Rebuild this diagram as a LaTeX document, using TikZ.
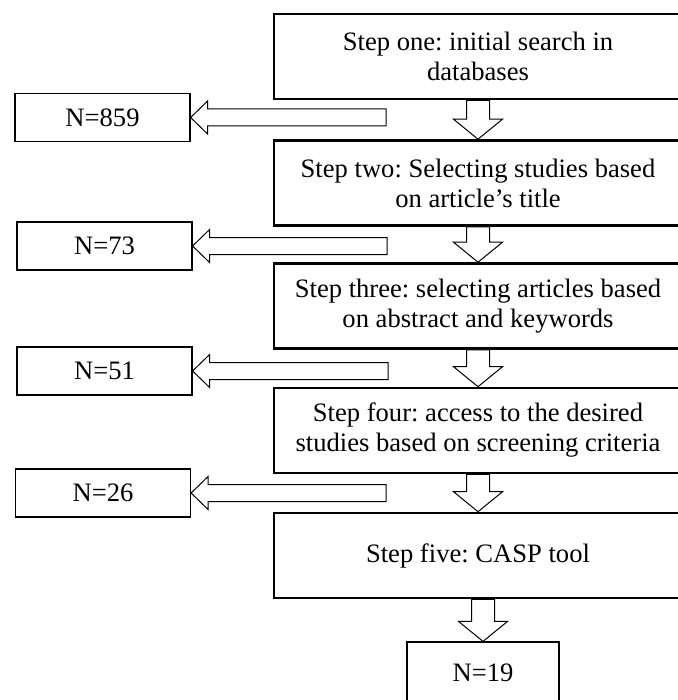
\documentclass[tikz,border=0pt]{standalone}
\usepackage{fontspec}
\setmainfont{Liberation Serif}
\usetikzlibrary{calc}
\frenchspacing

\tikzset{
  stepbox/.style={draw, line width=1.3pt, minimum width=204pt, minimum height=42.5pt,
    align=center, inner sep=0pt, font=\fontsize{13.3}{15}\selectfont},
  nbox/.style={draw, line width=0.6pt, minimum width=87.5pt, minimum height=24pt,
    inner sep=0pt, font=\fontsize{13.3}{15}\selectfont},
  fat/.style={draw, line width=0.5pt, fill=white, line join=miter}
}

% hollow block arrow pointing down, stem from #1, tip at #2
\newcommand{\downfat}[2]{%
  \draw[fat] let \p1=(#1), \p2=(#2) in
    (\x2,\y2) -- (\x2-12.25pt,\y2+10pt) -- (\x2-5.75pt,\y2+10pt) -- (\x2-5.75pt,\y1)
    -- (\x2+5.75pt,\y1) -- (\x2+5.75pt,\y2+10pt) -- (\x2+12.25pt,\y2+10pt) -- cycle;}
% hollow block arrow pointing left, tail at #1, tip at #2
\newcommand{\leftfat}[2]{%
  \draw[fat] let \p1=(#1), \p2=(#2) in
    (\x2,\y2) -- (\x2+8.5pt,\y2+8.25pt) -- (\x2+8.5pt,\y2+4.25pt) -- (\x1,\y2+4.25pt)
    -- (\x1,\y2-4.25pt) -- (\x2+8.5pt,\y2-4.25pt) -- (\x2+8.5pt,\y2-8.25pt) -- cycle;}

\begin{document}
\begin{tikzpicture}[x=0.5pt, y=-0.5pt]
\useasboundingbox (0,0) rectangle (677,700);

% steps on the right
\node[stepbox] (s1) at (478,56.5) {Step one: initial search in\\databases};
\node[stepbox] (s2) at (478,183) {Step two: Selecting studies based\\on article’s title};
\node[stepbox] (s3) at (478,306) {Step three: selecting articles based\\on abstract and keywords};
\node[stepbox] (s4) at (478,430.5) {Step four: access to the desired\\studies based on screening criteria};
\node[stepbox] (s5) at (478,555.5) {Step five: CASP tool};

% counts on the left
\node[nbox] (n1) at (102.5,117.5) {N=859};
\node[nbox] (n2) at (104.5,246) {N=73};
\node[nbox] (n3) at (104.5,371) {N=51};
\node[nbox] (n4) at (103,493) {N=26};
\node[nbox, minimum width=76pt, minimum height=31pt] (n5) at (483,673) {N=19};

% tails of the side arrows
\coordinate (t1) at (386,117.5);
\coordinate (t2) at (387,246);
\coordinate (t3) at (388,371);
\coordinate (t4) at (386,493);

\leftfat{t1}{n1.east}
\leftfat{t2}{n2.east}
\leftfat{t3}{n3.east}
\leftfat{t4}{n4.east}

\downfat{s1.south}{s2.north}
\downfat{s2.south}{s3.north}
\downfat{s3.south}{s4.north}
\downfat{s4.south}{s5.north}
\downfat{s5.south -| n5.north}{n5.north}

\end{tikzpicture}
\end{document}
